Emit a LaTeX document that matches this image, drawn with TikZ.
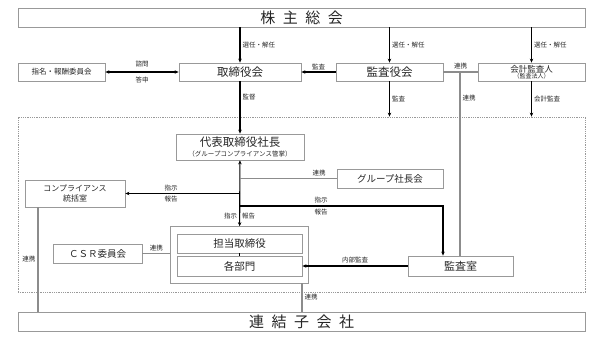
\documentclass[tikz,border=0pt]{standalone}
\usepackage{fontspec}
\setmainfont{Noto Sans CJK JP}
\usetikzlibrary{arrows.meta, positioning, fit}
\newcommand{\kgap}{\hspace{0.5em}}

\begin{document}
\begin{tikzpicture}[
    x=1pt, y=-1pt,
    box/.style={draw=gray!80, line width=0.8pt, align=center, inner sep=0pt, text=black!85},
    widebox/.style={box, minimum width=567pt, minimum height=19pt, font=\fontsize{15}{16}\selectfont},
    area/.style={draw=gray!80, densely dotted, line width=0.8pt, inner sep=0pt},
    arrow/.style={draw, line width=1.1pt, -{Stealth[length=4pt, width=3.5pt]}},
    twoway/.style={arrow, {Stealth[length=4pt, width=3.5pt]}-{Stealth[length=4pt, width=3.5pt]}},
    link/.style={draw=gray!90, line width=1.4pt},
    note/.style={font=\fontsize{6.5}{7}\selectfont, text=black!85, inner sep=2pt}
  ]
  \useasboundingbox (0,0) rectangle (601,338);

  \node[widebox] (soukai) at (301.5,17.5) {株\kgap 主\kgap 総\kgap 会};
  \node[box, minimum width=87pt, minimum height=18pt, font=\fontsize{7.5}{8}\selectfont] (shimei) at (61.5,72) {指名・報酬委員会};
  \node[box, minimum width=122pt, minimum height=18pt, font=\fontsize{11.5}{12}\selectfont] (torishimari) at (240,72) {取締役会};
  \node[box, minimum width=107pt, minimum height=18pt, font=\fontsize{11.5}{12}\selectfont] (kansayaku) at (389.5,72) {監査役会};
  \node[box, minimum width=107pt, minimum height=18pt, font=\fontsize{8.5}{9}\selectfont] (kaikei) at (531.5,72) {会計監査人\\[-2.5pt]{\fontsize{6}{6}\selectfont （監査法人）}};

  \node[area, minimum width=567pt, minimum height=175pt] (group) at (301.5,204.5) {};

  \node[box, minimum width=128pt, minimum height=26pt, font=\fontsize{11.5}{12}\selectfont] (daihyo) at (240,147) {代表取締役社長\\[-2pt]{\fontsize{6.5}{7}\selectfont （グループコンプライアンス管掌）}};
  \node[box, minimum width=100pt, minimum height=27pt, font=\fontsize{8}{10}\selectfont] (compl) at (75,193.5) {コンプライアンス\\統括室};
  \node[box, minimum width=106pt, minimum height=19pt, font=\fontsize{9.5}{10}\selectfont] (shachokai) at (390,178.5) {グループ社長会};
  \node[box, minimum width=125pt, minimum height=19pt, font=\fontsize{10.5}{11}\selectfont] (tanto) at (239.5,243.5) {担当取締役};
  \node[box, minimum width=125pt, minimum height=20pt, font=\fontsize{10.5}{11}\selectfont] (kakubu) at (239.5,266) {各部門};
  \node[box, fit=(tanto)(kakubu), inner xsep=6pt, inner ysep=7pt] (bumon) {};
  \node[box, minimum width=89pt, minimum height=19pt, font=\fontsize{9.5}{10}\selectfont] (csr) at (97.5,253.5) {ＣＳＲ委員会};
  \node[box, minimum width=105pt, minimum height=20pt, font=\fontsize{11}{12}\selectfont] (kansashitsu) at (460.5,266) {監査室};

  \node[widebox] (renketsu) at (301.5,321.5) {連\kgap 結\kgap 子\kgap 会\kgap 社};

  \coordinate (kl) at (460,72);
  \coordinate (ks) at (443,206);
  \coordinate (cb) at (38,207);
  \coordinate (bb) at (302,283);

  % shareholders
  \draw[arrow] (soukai.south -| torishimari) -- node[note, right] {選任・解任} (torishimari);
  \draw[arrow] (soukai.south -| kansayaku) -- node[note, right] {選任・解任} (kansayaku);
  \draw[arrow] (soukai.south -| kaikei) -- node[note, right] {選任・解任} (kaikei);

  \draw[twoway] (shimei) -- node[note, above=2pt] {諮問} node[note, below=2pt] {答申} (torishimari);
  \draw[arrow] (kansayaku) -- node[note, above] {監査} (torishimari);
  \draw[link] (kansayaku) -- node[note, above] {連携} (kaikei);
  \draw[link] (kl) -- node[note, right, pos=0.14] {連携} (kl |- kansashitsu.north);

  \draw[arrow] (torishimari) -- node[note, right, pos=0.3] {監督} (daihyo);
  \draw[arrow] (kansayaku) -- node[note, right] {監査} (kansayaku |- group.north);
  \draw[arrow] (kaikei) -- node[note, right] {会計監査} (kaikei |- group.north);

  % inside the group
  \draw[twoway] (daihyo) -- node[note, left, pos=0.85] {指示} node[note, right, pos=0.85] {報告} (bumon);
  \draw[arrow] (daihyo.south |- compl.east) -- node[note, above, pos=0.6] {指示} node[note, below, pos=0.6] {報告} (compl);
  \draw[link] (daihyo.south |- shachokai.west) -- node[note, above, pos=0.82] {連携} (shachokai);
  \draw[arrow] (daihyo.south |- ks) -- node[note, above, pos=0.4] {指示} node[note, below, pos=0.4] {報告} (ks) -- (ks |- kansashitsu.north);
  \draw[line width=1.1pt] (tanto) -- (kakubu);
  \draw[link] (csr.east) -- node[note, above] {連携} (csr.east -| bumon.west);
  \draw[arrow] (kansashitsu) -- node[note, above] {内部監査} (kakubu);

  % subsidiaries
  \draw[link] (cb) -- node[note, left] {連携} (cb |- renketsu.north);
  \draw[link] (bb) -- node[note, right] {連携} (bb |- renketsu.north);
\end{tikzpicture}
\end{document}
